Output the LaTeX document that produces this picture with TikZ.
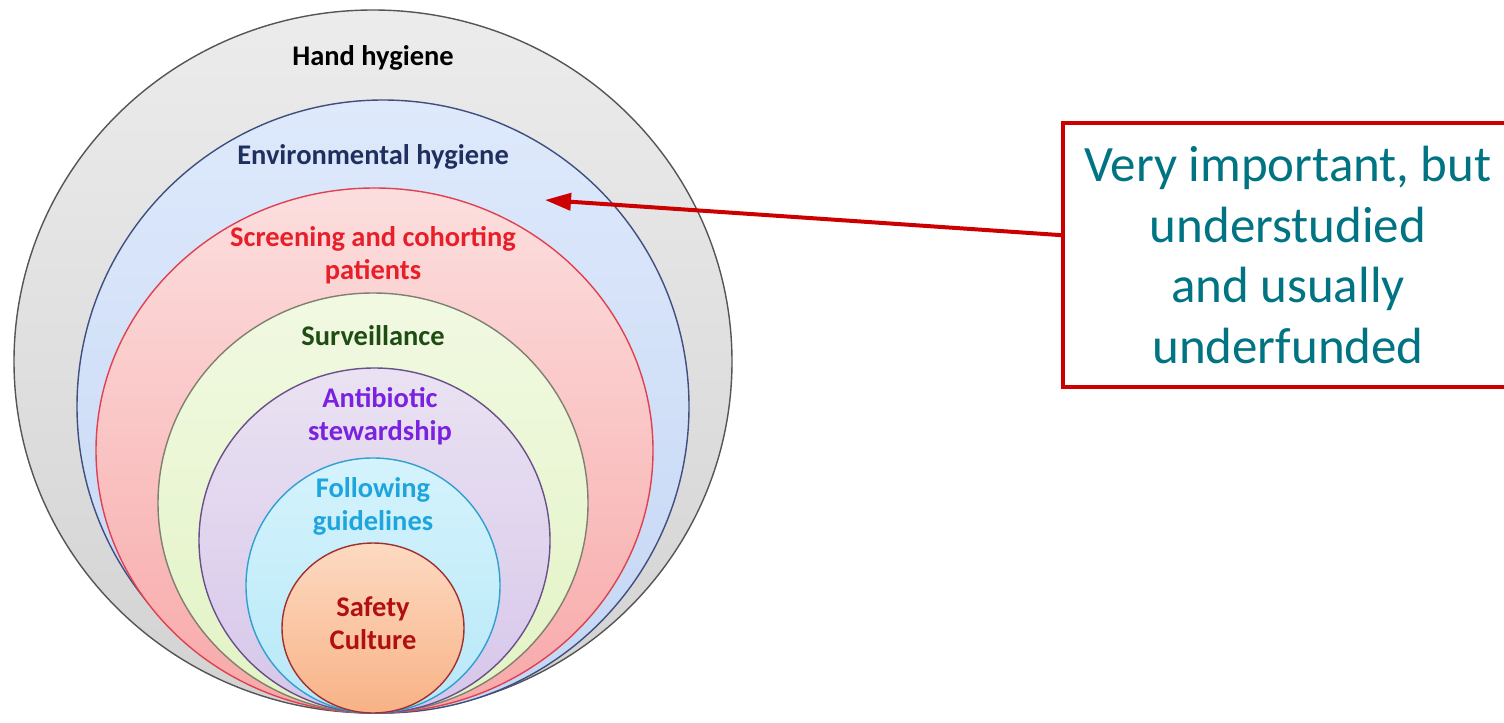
\documentclass[tikz,border=0pt]{standalone}
\usepackage{fontspec}
\setmainfont{Carlito}
\usetikzlibrary{arrows.meta}
\definecolor{handline}{HTML}{555555}
\definecolor{envline}{HTML}{3F4F7F}
\definecolor{scrline}{HTML}{E04050}
\definecolor{survline}{HTML}{808070}
\definecolor{abline}{HTML}{6A508A}
\definecolor{folline}{HTML}{30A0D0}
\definecolor{safline}{HTML}{A03030}
\definecolor{envtext}{HTML}{1F3060}
\definecolor{scrtext}{HTML}{E81E28}
\definecolor{survtext}{HTML}{1E4D14}
\definecolor{abtext}{HTML}{7A22E0}
\definecolor{foltext}{HTML}{1EA5DE}
\definecolor{saftext}{HTML}{B01010}
\definecolor{notetext}{HTML}{007482}
\definecolor{notered}{HTML}{CC0000}
\tikzset{
  ring/.style={line width=0.8pt},
  lbl/.style={font=\bfseries\fontsize{16.2}{18.8}\selectfont, align=center},
  note/.style={draw=notered, line width=0.08cm, fill=white, align=center, text=notetext,
    font=\fontsize{29}{34.7}\selectfont, minimum width=9cm, minimum height=5.28cm},
  pointer/.style={draw=notered, line width=0.08cm, -{Triangle[length=0.52cm,width=0.34cm]}}
}
\begin{document}
\begin{tikzpicture}[x=0.02cm,y=-0.02cm]
\useasboundingbox (0,0) rectangle (1504,723);
\draw[ring, draw=handline, top color=gray!15, bottom color=gray!35] (373,361.5) ellipse [x radius=359, y radius=351.5];
\draw[ring, draw=envline, top color={rgb,255:red,222;green,233;blue,251}, bottom color={rgb,255:red,196;green,214;blue,244}] (383,406.5) ellipse [x radius=306, y radius=306.5];
\draw[ring, draw=scrline, top color={rgb,255:red,252;green,222;blue,222}, bottom color={rgb,255:red,248;green,168;blue,168}] (374.5,450.5) ellipse [x radius=278.5, y radius=262.5];
\draw[ring, draw=survline, top color={rgb,255:red,241;green,249;blue,226}, bottom color={rgb,255:red,226;green,243;blue,196}] (373,503) ellipse [x radius=215, y radius=210];
\draw[ring, draw=abline, top color={rgb,255:red,234;green,226;blue,242}, bottom color={rgb,255:red,214;green,198;blue,234}] (374.5,540.5) ellipse [x radius=175.5, y radius=172.5];
\draw[ring, draw=folline, top color={rgb,255:red,212;green,243;blue,252}, bottom color={rgb,255:red,184;green,232;blue,248}] (373,585.5) ellipse [x radius=127, y radius=127.5];
\draw[ring, draw=safline, top color={rgb,255:red,253;green,218;blue,194}, bottom color={rgb,255:red,248;green,178;blue,134}] (373,628) ellipse [x radius=91, y radius=85];
\node[lbl, text=black] (hand) at (373,58) {Hand hygiene};
\node[lbl, text=envtext] (env) at (373,157) {Environmental hygiene};
\node[lbl, text=scrtext] (scr) at (373,255) {Screening and cohorting\\patients};
\node[lbl, text=survtext] (surv) at (373,336) {Surveillance};
\node[lbl, text=abtext] (ab) at (380,416) {Antibiotic\\stewardship};
\node[lbl, text=foltext] (fol) at (373,506) {Following\\guidelines};
\node[lbl, text=saftext] (saf) at (373,623) {Safety\\Culture};
\node[note] (note) at (1288,255) {Very important, but\\understudied\\ and usually\\underfunded};
\coordinate (tip) at (545,200);
\draw[pointer] (note.175) -- (tip);
\end{tikzpicture}
\end{document}
